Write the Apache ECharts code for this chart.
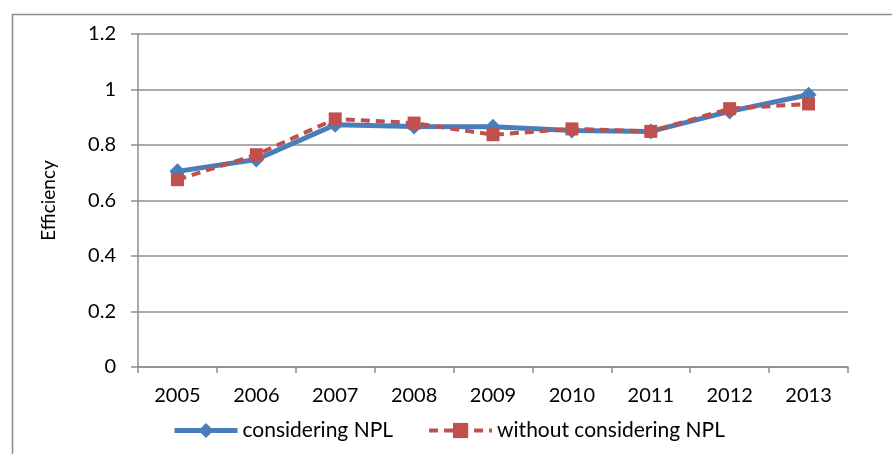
<!DOCTYPE html>
<html>
<head>
<meta charset="utf-8">
<script src="https://cdn.jsdelivr.net/npm/echarts@6/dist/echarts.min.js"></script>
<style>
  html, body { margin: 0; padding: 0; background: #fff; }
  #chart { width: 892px; height: 454px; }
</style>
</head>
<body>
<div id="chart"></div>
<script>
// Years on the category axis
const years = ['2005', '2006', '2007', '2008', '2009', '2010', '2011', '2012', '2013'];
// Efficiency scores
const consideringNPL = [0.705, 0.748, 0.873, 0.867, 0.866, 0.852, 0.849, 0.921, 0.981];
const withoutConsideringNPL = [0.675, 0.765, 0.894, 0.879, 0.837, 0.858, 0.849, 0.931, 0.948];
// Value axis range
const yMin = 0, yMax = 1.2, yStep = 0.2;

const FONT = 'Lato, "Open Sans", sans-serif';
const GRID_COLOR = '#8f8f8f';
const BLUE = '#4a7ebb';
const RED = '#c0504d';

const chart = echarts.init(document.getElementById('chart'));
chart.setOption({
  animation: false,
  backgroundColor: '#ffffff',
  graphic: [{
    type: 'rect',
    left: 10, top: 12,
    shape: { width: 900, height: 460 },
    style: { fill: 'none', stroke: '#8c8c8c', lineWidth: 1.5 },
    silent: true
  }],
  grid: { left: 138, right: 44, top: 34, bottom: 87, containLabel: false },
  legend: {
    bottom: 8,
    left: 167,
    itemWidth: 63,
    itemHeight: 19,
    itemGap: 34,
    textStyle: { fontFamily: FONT, fontSize: 21, color: '#000' },
    data: [
      { name: 'considering NPL', lineStyle: { width: 5 } },
      { name: 'without considering NPL', lineStyle: { width: 4 } }
    ]
  },
  xAxis: {
    type: 'category',
    data: years,
    boundaryGap: true,
    axisLine: { lineStyle: { color: GRID_COLOR, width: 1.5 } },
    axisTick: { show: true, length: 6, alignWithLabel: false, lineStyle: { color: GRID_COLOR, width: 1.5 } },
    axisLabel: { fontFamily: FONT, fontSize: 20, color: '#000', margin: 19 }
  },
  yAxis: {
    type: 'value',
    min: yMin, max: yMax, interval: yStep,
    name: 'Efficiency',
    nameLocation: 'middle',
    nameRotate: 90,
    nameGap: 80,
    nameTextStyle: { fontFamily: FONT, fontSize: 19, color: '#000' },
    axisLine: { show: true, lineStyle: { color: GRID_COLOR, width: 1.5 } },
    axisTick: { show: true, length: 7, lineStyle: { color: GRID_COLOR, width: 1.5 } },
    axisLabel: {
      fontFamily: FONT, fontSize: 20, color: '#000', margin: 22,
      formatter: v => String(Math.round(v * 10) / 10)
    },
    splitLine: { show: true, lineStyle: { color: GRID_COLOR, width: 1.5 } }
  },
  series: [
    {
      name: 'considering NPL',
      type: 'line',
      data: consideringNPL,
      symbol: 'diamond',
      symbolSize: 16,
      lineStyle: { color: BLUE, width: 5 },
      itemStyle: { color: BLUE },
      z: 2
    },
    {
      name: 'without considering NPL',
      type: 'line',
      data: withoutConsideringNPL,
      symbol: 'rect',
      symbolSize: 13,
      lineStyle: { color: RED, width: 4, type: [9, 6] },
      itemStyle: { color: RED },
      z: 3
    }
  ]
});
</script>
</body>
</html>
